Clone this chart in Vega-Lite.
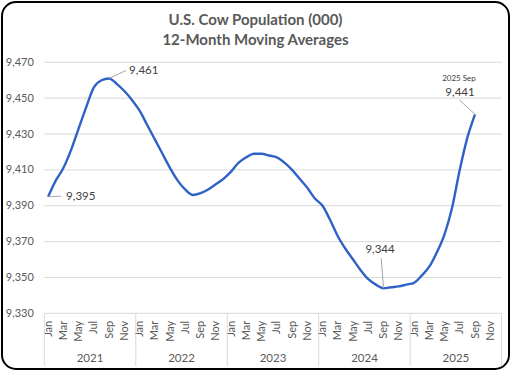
{
  "$schema": "https://vega.github.io/schema/vega-lite/v6.json",
  "width": 507,
  "height": 367,
  "padding": {"left": 2, "top": 2, "right": 3, "bottom": 3},
  "autosize": {"type": "none"},
  "background": "white",
  "config": {
    "view": {"stroke": "#000000", "strokeWidth": 2, "cornerRadius": 14},
    "font": "Lato",
    "axis": {"labelBound": false, "labelFlush": false, "domain": false, "ticks": false, "grid": false, "labelColor": "#595959", "labelFontSize": 11}
  },
  "title": {
    "text": ["U.S. Cow Population (000)", "12-Month Moving Averages"],
    "fontSize": 15,
    "font": "Lato",
    "fontWeight": "bold",
    "color": "#595959",
    "anchor": "middle",
    "frame": "group",
    "baseline": "top",
    "lineHeight": 20,
    "offset": -46
  },
  "datasets": {
    "cows": [
      {"year": 2021, "month": "Jan", "idx": 0, "value": 9395},
      {"year": 2021, "month": "Feb", "idx": 1, "value": 9404},
      {"year": 2021, "month": "Mar", "idx": 2, "value": 9411},
      {"year": 2021, "month": "Apr", "idx": 3, "value": 9421},
      {"year": 2021, "month": "May", "idx": 4, "value": 9433},
      {"year": 2021, "month": "Jun", "idx": 5, "value": 9445},
      {"year": 2021, "month": "Jul", "idx": 6, "value": 9456},
      {"year": 2021, "month": "Aug", "idx": 7, "value": 9460},
      {"year": 2021, "month": "Sep", "idx": 8, "value": 9461},
      {"year": 2021, "month": "Oct", "idx": 9, "value": 9458},
      {"year": 2021, "month": "Nov", "idx": 10, "value": 9454},
      {"year": 2021, "month": "Dec", "idx": 11, "value": 9449},
      {"year": 2022, "month": "Jan", "idx": 12, "value": 9443},
      {"year": 2022, "month": "Feb", "idx": 13, "value": 9435},
      {"year": 2022, "month": "Mar", "idx": 14, "value": 9427},
      {"year": 2022, "month": "Apr", "idx": 15, "value": 9419},
      {"year": 2022, "month": "May", "idx": 16, "value": 9411},
      {"year": 2022, "month": "Jun", "idx": 17, "value": 9404},
      {"year": 2022, "month": "Jul", "idx": 18, "value": 9399},
      {"year": 2022, "month": "Aug", "idx": 19, "value": 9396},
      {"year": 2022, "month": "Sep", "idx": 20, "value": 9397},
      {"year": 2022, "month": "Oct", "idx": 21, "value": 9399},
      {"year": 2022, "month": "Nov", "idx": 22, "value": 9402},
      {"year": 2022, "month": "Dec", "idx": 23, "value": 9405},
      {"year": 2023, "month": "Jan", "idx": 24, "value": 9409},
      {"year": 2023, "month": "Feb", "idx": 25, "value": 9414},
      {"year": 2023, "month": "Mar", "idx": 26, "value": 9417},
      {"year": 2023, "month": "Apr", "idx": 27, "value": 9419},
      {"year": 2023, "month": "May", "idx": 28, "value": 9419},
      {"year": 2023, "month": "Jun", "idx": 29, "value": 9418},
      {"year": 2023, "month": "Jul", "idx": 30, "value": 9417},
      {"year": 2023, "month": "Aug", "idx": 31, "value": 9414},
      {"year": 2023, "month": "Sep", "idx": 32, "value": 9410},
      {"year": 2023, "month": "Oct", "idx": 33, "value": 9405},
      {"year": 2023, "month": "Nov", "idx": 34, "value": 9400},
      {"year": 2023, "month": "Dec", "idx": 35, "value": 9394},
      {"year": 2024, "month": "Jan", "idx": 36, "value": 9390},
      {"year": 2024, "month": "Feb", "idx": 37, "value": 9382},
      {"year": 2024, "month": "Mar", "idx": 38, "value": 9373},
      {"year": 2024, "month": "Apr", "idx": 39, "value": 9366},
      {"year": 2024, "month": "May", "idx": 40, "value": 9360},
      {"year": 2024, "month": "Jun", "idx": 41, "value": 9354},
      {"year": 2024, "month": "Jul", "idx": 42, "value": 9349},
      {"year": 2024, "month": "Aug", "idx": 43, "value": 9346},
      {"year": 2024, "month": "Sep", "idx": 44, "value": 9344},
      {"year": 2024, "month": "Oct", "idx": 45, "value": 9344.5},
      {"year": 2024, "month": "Nov", "idx": 46, "value": 9345},
      {"year": 2024, "month": "Dec", "idx": 47, "value": 9346},
      {"year": 2025, "month": "Jan", "idx": 48, "value": 9347},
      {"year": 2025, "month": "Feb", "idx": 49, "value": 9351},
      {"year": 2025, "month": "Mar", "idx": 50, "value": 9356},
      {"year": 2025, "month": "Apr", "idx": 51, "value": 9364},
      {"year": 2025, "month": "May", "idx": 52, "value": 9374},
      {"year": 2025, "month": "Jun", "idx": 53, "value": 9389},
      {"year": 2025, "month": "Jul", "idx": 54, "value": 9410},
      {"year": 2025, "month": "Aug", "idx": 55, "value": 9428},
      {"year": 2025, "month": "Sep", "idx": 56, "value": 9441}
    ],
    "grid": [
      {"g": 9330}, {"g": 9350}, {"g": 9370}, {"g": 9390},
      {"g": 9410}, {"g": 9430}, {"g": 9450}, {"g": 9470}
    ],
    "years": [
      {"year": "2021", "mid": 5.5},
      {"year": "2022", "mid": 17.5},
      {"year": "2023", "mid": 29.5},
      {"year": "2024", "mid": 41.5},
      {"year": "2025", "mid": 53.5}
    ],
    "bounds": [
      {"b": -0.5}, {"b": 11.5}, {"b": 23.5}, {"b": 35.5}, {"b": 47.5}, {"b": 59.5}
    ]
  },
  "layer": [
    {
      "data": {"name": "grid"},
      "mark": {"type": "rule", "color": "#d9d9d9", "strokeWidth": 1},
      "encoding": {
        "x": {
          "datum": -0.5,
          "type": "quantitative",
          "title": null,
          "scale": {"domain": [-6.05, 60.46], "nice": false, "zero": false},
          "axis": {
            "values": [0, 2, 4, 6, 8, 10, 12, 14, 16, 18, 20, 22, 24, 26, 28, 30, 32, 34, 36, 38, 40, 42, 44, 46, 48, 50, 52, 54, 56, 58],
            "tickCount": 100,
            "labelExpr": "['Jan','Feb','Mar','Apr','May','Jun','Jul','Aug','Sep','Oct','Nov','Dec'][datum.value % 12]",
            "labelAngle": -90,
            "offset": -55.7,
            "labelPadding": 7,
            "labelOverlap": false,
            "labelBound": false,
            "labelFlush": false
          }
        },
        "x2": {"datum": 59.5},
        "y": {
          "field": "g",
          "type": "quantitative",
          "title": null,
          "scale": {"domain": [9298.93, 9503.63], "nice": false, "zero": false},
          "axis": {
            "values": [9330, 9350, 9370, 9390, 9410, 9430, 9450, 9470],
            "tickCount": 100,
            "format": ",.0f",
            "offset": -42.3,
            "labelPadding": 11
          }
        }
      }
    },
    {
      "data": {"name": "bounds"},
      "mark": {"type": "rule", "color": "#d9d9d9", "strokeWidth": 1},
      "encoding": {
        "x": {"field": "b", "type": "quantitative", "title": null},
        "y": {"datum": 9330, "type": "quantitative", "title": null},
        "y2": {"datum": 9300.6}
      }
    },
    {
      "data": {"name": "years"},
      "mark": {"type": "text", "fontSize": 11.5, "color": "#595959", "baseline": "middle", "align": "center"},
      "encoding": {
        "x": {"field": "mid", "type": "quantitative", "title": null},
        "y": {"datum": 9304.3, "type": "quantitative", "title": null},
        "text": {"field": "year", "type": "nominal"}
      }
    },
    {
      "data": {"name": "cows"},
      "mark": {"type": "line", "color": "#2f62c6", "strokeWidth": 2.4, "interpolate": "monotone"},
      "encoding": {
        "x": {"field": "idx", "type": "quantitative", "title": null},
        "y": {"field": "value", "type": "quantitative", "title": null}
      }
    },
    {
      "data": {"name": "cows"},
      "transform": [{"filter": "datum.idx == 0"}],
      "layer": [
        {
          "mark": {"type": "rule", "color": "#a6a6a6", "strokeWidth": 1},
          "encoding": {
            "x": {"field": "idx", "type": "quantitative", "title": null},
            "y": {"field": "value", "type": "quantitative", "title": null},
            "x2": {"datum": 1.7},
            "y2": {"datum": 9395.3}
          }
        },
        {
          "mark": {"type": "text", "align": "left", "baseline": "middle", "dx": 18, "fontSize": 11.5, "color": "#404040"},
          "encoding": {
            "x": {"field": "idx", "type": "quantitative", "title": null},
            "y": {"field": "value", "type": "quantitative", "title": null},
            "text": {"field": "value", "type": "quantitative", "format": ",.0f"}
          }
        }
      ]
    },
    {
      "data": {"name": "cows"},
      "transform": [{"filter": "datum.idx == 8"}],
      "layer": [
        {
          "mark": {"type": "rule", "color": "#a6a6a6", "strokeWidth": 1},
          "encoding": {
            "x": {"field": "idx", "type": "quantitative", "title": null},
            "y": {"field": "value", "type": "quantitative", "title": null},
            "x2": {"datum": 10.2},
            "y2": {"datum": 9465.4}
          }
        },
        {
          "mark": {"type": "text", "align": "left", "baseline": "middle", "dx": 20, "dy": -7, "fontSize": 11.5, "color": "#404040"},
          "encoding": {
            "x": {"field": "idx", "type": "quantitative", "title": null},
            "y": {"field": "value", "type": "quantitative", "title": null},
            "text": {"field": "value", "type": "quantitative", "format": ",.0f"}
          }
        }
      ]
    },
    {
      "data": {"name": "cows"},
      "transform": [{"filter": "datum.idx == 44"}],
      "layer": [
        {
          "mark": {"type": "rule", "color": "#a6a6a6", "strokeWidth": 1},
          "encoding": {
            "x": {"field": "idx", "type": "quantitative", "title": null},
            "y": {"field": "value", "type": "quantitative", "title": null},
            "x2": {"datum": 43.7},
            "y2": {"datum": 9360.7}
          }
        },
        {
          "mark": {"type": "text", "align": "center", "baseline": "middle", "dx": -3.5, "dy": -38, "fontSize": 11.5, "color": "#404040"},
          "encoding": {
            "x": {"field": "idx", "type": "quantitative", "title": null},
            "y": {"field": "value", "type": "quantitative", "title": null},
            "text": {"field": "value", "type": "quantitative", "format": ",.0f"}
          }
        }
      ]
    },
    {
      "data": {"name": "cows"},
      "transform": [{"filter": "datum.idx == 56"}],
      "layer": [
        {
          "mark": {"type": "rule", "color": "#a6a6a6", "strokeWidth": 1},
          "encoding": {
            "x": {"field": "idx", "type": "quantitative", "title": null},
            "y": {"field": "value", "type": "quantitative", "title": null},
            "x2": {"datum": 53.94},
            "y2": {"datum": 9449}
          }
        },
        {
          "mark": {"type": "text", "align": "center", "baseline": "middle", "dx": -15, "dy": -21.6, "fontSize": 11.5, "color": "#404040"},
          "encoding": {
            "x": {"field": "idx", "type": "quantitative", "title": null},
            "y": {"field": "value", "type": "quantitative", "title": null},
            "text": {"field": "value", "type": "quantitative", "format": ",.0f"}
          }
        },
        {
          "mark": {"type": "text", "align": "center", "baseline": "middle", "dx": -16, "dy": -35, "fontSize": 8, "color": "#404040", "text": "2025 Sep"},
          "encoding": {
            "x": {"field": "idx", "type": "quantitative", "title": null},
            "y": {"field": "value", "type": "quantitative", "title": null}
          }
        }
      ]
    }
  ]
}
